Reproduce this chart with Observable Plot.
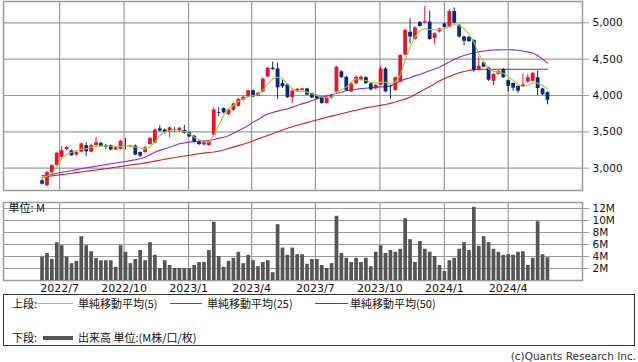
<!DOCTYPE html>
<html><head><meta charset="utf-8">
<script src="https://cdn.jsdelivr.net/npm/d3@7"></script>
<script src="https://cdn.jsdelivr.net/npm/@observablehq/plot@0.6"></script>
<style>
body{margin:0;background:#fff;}
#wrap{position:relative;width:638px;height:362px;overflow:hidden;font-family:"DejaVu Sans",sans-serif;}
#topChart,#botChart{position:absolute;left:0;}
#topChart{top:0px}
#botChart{top:196px}
.lg{position:absolute;left:3px;top:294px;width:632px;height:52px;border:1px solid #333;box-sizing:border-box;}
.t{position:absolute;font-family:"Noto Sans CJK JP",sans-serif;font-size:11px;line-height:13px;color:#111;white-space:nowrap;}
.ln{position:absolute;height:1px;}
.cap{position:absolute;right:2px;top:350px;font-family:"DejaVu Sans",sans-serif;font-size:10.5px;color:#333;}
</style></head>
<body><div id="wrap"><div id="topChart"></div><div id="botChart"></div>
<div class="lg">
  <span class="t" style="left:8px;top:2px">上段:</span>
  <div class="ln" style="left:31px;top:8px;width:38px;background:#a2c83a"></div>
  <span class="t" style="left:74px;top:2px">単純移動平均(5)</span>
  <div class="ln" style="left:166px;top:8px;width:32px;background:#8a2bd0"></div>
  <span class="t" style="left:203px;top:2px">単純移動平均(25)</span>
  <div class="ln" style="left:311px;top:8px;width:33px;background:#c8201c"></div>
  <span class="t" style="left:346px;top:2px">単純移動平均(50)</span>
  <span class="t" style="left:8px;top:36px">下段:</span>
  <div class="ln" style="left:39px;top:41px;width:30px;height:4px;background:#555"></div>
  <span class="t" style="left:74px;top:36px">出来高 単位:(M株/口/枚)</span>
</div>
<div class="cap">(c)Quants Research Inc.</div>
</div>
<script>
const startWeek = "2022-06-06";
const endWeek = "2024-06-01";
const open = [2827,2755,2935,3040,3150,3255,3240,3180,3220,3310,
3220,3310,3340,3305,3310,3250,3260,3300,3290,3305,
3215,3215,3325,3345,3540,3525,3500,3530,3510,3520,
3485,3440,3360,3320,3310,3455,3765,3820,3735,3795,
3850,3935,3980,4065,3990,4045,4255,4375,4365,4165,
4145,3970,4060,4070,4090,4025,4000,3975,3890,3995,
4045,4325,4250,4050,4160,4210,4245,4160,4090,4140,
4365,4130,4070,4185,4555,4870,4770,5005,4995,5010,
4785,4875,4985,4940,5155,4965,4805,4800,4755,4345,
4450,4375,4195,4290,4355,4205,4165,4125,4120,4185,
4195,4245,4090,4040];
const close = [2780,2940,3035,3205,3240,3285,3170,3215,3335,3225,
3310,3350,3300,3290,3250,3280,3370,3295,3305,3180,
3165,3280,3410,3525,3510,3495,3555,3520,3550,3480,
3430,3360,3325,3355,3370,3800,3755,3760,3800,3885,
3945,3975,4065,3980,4030,4225,4375,4355,4105,4120,
3970,4060,4085,4090,4005,3965,3955,3890,3975,3970,
4390,4245,4070,4160,4250,4250,4165,4075,4140,4365,
4050,4120,4245,4550,4895,4805,4930,4950,5015,4770,
4850,4915,4935,5155,4995,4805,4745,4740,4345,4400,
4390,4210,4290,4330,4245,4125,4100,4060,4145,4245,
4305,4095,4010,3935];
const high = [2840,2955,3045,3215,3300,3300,3250,3230,3345,3350,
3330,3420,3360,3330,3320,3295,3385,3410,3315,3320,
3225,3295,3420,3540,3585,3540,3565,3560,3565,3590,
3495,3450,3370,3365,3380,3830,3830,3830,3810,3895,
3960,3990,4075,4075,4045,4240,4390,4460,4445,4215,
4160,4075,4100,4100,4100,4035,4010,3985,3985,4005,
4400,4340,4265,4170,4270,4270,4260,4170,4150,4395,
4385,4140,4255,4565,4910,5055,4945,5020,5225,5160,
4860,4925,4995,5180,5205,4975,4815,4810,4770,4530,
4465,4390,4300,4345,4370,4215,4175,4130,4290,4290,
4320,4335,4100,4050];
const low = [2770,2745,2925,3030,3140,3240,3165,3165,3210,3160,
3210,3300,3290,3260,3240,3245,3250,3250,3280,3170,
3145,3205,3315,3335,3500,3470,3420,3495,3490,3470,
3420,3350,3310,3310,3300,3440,3710,3745,3725,3780,
3840,3925,3970,3970,3980,4035,4245,4345,3945,4100,
3960,3890,4040,4060,3995,3955,3945,3880,3880,3950,
4035,4235,4055,4040,4150,4200,4150,4065,4080,4130,
4040,3945,4060,4175,4545,4710,4760,4940,4985,4760,
4700,4860,4925,4930,4985,4790,4685,4730,4320,4335,
4380,4195,4135,4280,4235,4045,4060,4030,4115,4170,
4185,4000,4000,3870];
const volumeM = [3.9,4.5,3.5,6.3,5.8,3.9,2.8,3.2,7.3,5.8,
4.8,3.7,3.3,3.3,3.3,2.2,5.8,4.7,2.8,3.5,
5.0,3.3,6.3,4.2,2.0,3.3,2.5,2.0,2.0,2.0,
2.0,2.5,3.0,3.0,5.0,9.7,4.0,2.2,3.2,3.7,
4.7,2.8,4.2,3.3,2.3,3.0,3.3,1.3,9.3,5.4,
4.2,5.4,4.3,4.3,2.7,3.5,3.5,2.5,2.0,2.8,
10.7,4.5,3.7,3.0,3.7,3.0,3.7,2.3,4.7,5.8,
4.5,5.0,4.7,5.2,10.3,6.8,3.0,6.5,5.2,4.7,
4.0,2.5,1.5,3.3,3.7,5.2,6.3,5.0,12.2,5.7,
7.3,6.3,5.2,4.7,4.2,4.3,4.2,4.7,4.8,2.5,
3.7,9.8,4.3,3.8];
const ma5 = [2858,2890,2927,3014,3133,3188,3220,3240,3262,3265,
3290,3298,3305,3305,3302,3298,3298,3305,3305,3290,
3280,3262,3290,3358,3450,3495,3519,3528,3519,3505,
3473,3427,3391,3367,3358,3450,3588,3725,3817,3863,
3918,3955,3987,4000,4014,4069,4161,4230,4252,4230,
4161,4092,4060,4060,4046,4024,4000,3977,3969,3977,
4046,4078,4115,4183,4230,4216,4207,4183,4170,4183,
4183,4161,4183,4275,4482,4665,4803,4895,4918,4904,
4904,4904,4918,4950,4977,4963,4918,4849,4734,4574,
4459,4367,4330,4322,4307,4262,4207,4148,4124,4138,
4170,4170,4138,4092];
const ma25 = [2899,2905,2915,2930,2945,2955,2965,2980,2992,3005,
3015,3027,3038,3049,3060,3071,3082,3093,3104,3115,
3130,3151,3185,3220,3245,3268,3289,3312,3335,3347,
3358,3365,3372,3377,3381,3395,3410,3425,3445,3480,
3515,3550,3588,3630,3670,3710,3745,3765,3785,3800,
3815,3840,3862,3885,3905,3930,3952,3975,3995,4010,
4030,4045,4065,4075,4085,4095,4100,4106,4112,4118,
4122,4130,4160,4200,4225,4244,4270,4290,4315,4340,
4365,4390,4425,4460,4495,4527,4550,4570,4588,4600,
4612,4620,4625,4628,4629,4629,4627,4622,4612,4600,
4585,4550,4500,4445];
const ma50 = [2876,2885,2894,2903,2912,2921,2930,2939,2948,2957,
2966,2975,2984,2993,3002,3012,3023,3033,3043,3052,
3062,3073,3085,3097,3110,3122,3134,3146,3158,3168,
3178,3188,3198,3207,3215,3222,3232,3250,3270,3290,
3310,3330,3350,3375,3400,3425,3450,3475,3500,3525,
3550,3570,3590,3608,3627,3645,3663,3682,3700,3716,
3732,3750,3766,3782,3798,3814,3830,3842,3853,3864,
3875,3892,3910,3930,3950,3975,4010,4050,4085,4120,
4160,4200,4235,4262,4290,4312,4330,4345,4355,4360,
4360,4360,4360,4360,4360,4360,4360,4360,4360,4360,
4360,4360,4360,4360];
const priceTicks = [3000,3500,4000,4500,5000];
const volTicks = [2,4,6,8,10,12];
const monthTicks = ["2022-07-01","2022-10-01","2023-01-01","2023-04-01","2023-07-01","2023-10-01","2024-01-01","2024-04-01"].map(s=>new Date(s));
const xDomain = [new Date("2022-04-12"), new Date("2024-07-16")];

const weeks = d3.utcMonday.range(new Date(startWeek), new Date(endWeek));
const rows = weeks.map((d,i)=>({date:d,o:open[i],h:high[i],l:low[i],c:close[i],v:volumeM[i],m5:ma5[i],m25:ma25[i],m50:ma50[i]}));
const RED="#e8142c", NAVY="#0a2a78", GRID="#9a9a9a";
const col = d=> d.c>=d.o?RED:NAVY;

const priceChart = Plot.plot({
  width:638,height:192,marginLeft:3,marginRight:56,marginTop:1,marginBottom:2,
  style:{fontFamily:"DejaVu Sans, sans-serif",fontSize:"10.5px",color:"#111",background:"#fff"},
  x:{type:"utc",domain:xDomain,axis:null},
  y:{domain:[2693,5293],label:null},
  marks:[
    Plot.ruleX(monthTicks,{stroke:GRID,strokeWidth:1.2}),
    Plot.ruleY(priceTicks,{stroke:GRID,strokeWidth:1.2}),
    Plot.frame({stroke:GRID,strokeWidth:1.5}),
    Plot.axisY({anchor:"right",label:null,ticks:priceTicks,tickFormat:d3.format(","),tickSize:6,tickPadding:4,stroke:GRID}),
    Plot.line(rows,{x:"date",y:"m50",stroke:"#c8201c",strokeWidth:1.1}),
    Plot.line(rows,{x:"date",y:"m25",stroke:"#8a2bd0",strokeWidth:1.1}),
    Plot.ruleX(rows,{x:"date",y1:"l",y2:"h",stroke:col,strokeWidth:1}),
    Plot.ruleX(rows,{x:"date",y1:"o",y2:"c",stroke:col,strokeWidth:3.8}),
    Plot.line(rows,{x:"date",y:"m5",stroke:"#a2c83a",strokeWidth:1.1})
  ]
});
document.getElementById("topChart").appendChild(priceChart);

const volChart = Plot.plot({
  width:638,height:100,marginLeft:3,marginRight:56,marginTop:6,marginBottom:16,
  style:{fontFamily:"DejaVu Sans, sans-serif",fontSize:"10.5px",color:"#111",background:"#fff"},
  x:{type:"utc",domain:xDomain,label:null},
  y:{domain:[0,13],label:null},
  marks:[
    Plot.ruleX(monthTicks,{stroke:GRID,strokeWidth:1.2}),
    Plot.ruleY(volTicks,{stroke:GRID,strokeWidth:1.2}),
    Plot.frame({stroke:GRID,strokeWidth:1.5}),
    Plot.axisY({anchor:"right",label:null,ticks:volTicks,tickFormat:d=>d+"M",tickSize:6,tickPadding:4,stroke:GRID}),
    Plot.axisX({anchor:"bottom",label:null,ticks:monthTicks,tickFormat:d3.utcFormat("%Y/%-m"),tickSize:0,tickPadding:4,fontSize:"11px"}),
    Plot.ruleX(rows,{x:"date",y1:0,y2:"v",stroke:"#555",strokeWidth:3.7}),
    Plot.text(["単位: M"],{frameAnchor:"top-left",dx:5,dy:2,fontFamily:"Noto Sans CJK JP",fontSize:11,fill:"#111"})
  ]
});
document.getElementById("botChart").appendChild(volChart);
</script></body></html>
